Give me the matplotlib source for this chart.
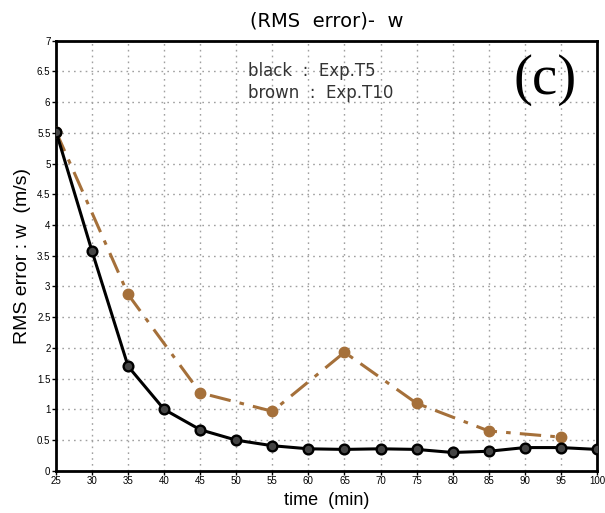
import matplotlib
matplotlib.use("Agg")
import matplotlib.pyplot as plt

plt.rcParams["font.family"] = ["Liberation Sans", "DejaVu Sans"]

# Data
time_t5 = [25, 30, 35, 40, 45, 50, 55, 60, 65, 70, 75, 80, 85, 90, 95, 100]
rms_t5 = [5.52, 3.57, 1.70, 1.00, 0.67, 0.50, 0.41, 0.36, 0.35, 0.36, 0.35, 0.30, 0.32, 0.38, 0.38, 0.35]
time_t10 = [25, 35, 45, 55, 65, 75, 85, 95]
rms_t10 = [5.52, 2.87, 1.27, 0.97, 1.93, 1.10, 0.65, 0.55]
xticks = [25, 30, 35, 40, 45, 50, 55, 60, 65, 70, 75, 80, 85, 90, 95, 100]
yticks = [0, 0.5, 1, 1.5, 2, 2.5, 3, 3.5, 4, 4.5, 5, 5.5, 6, 6.5, 7]

brown = "#a5703a"

fig = plt.figure(figsize=(6.05, 5.13), dpi=100)
ax = fig.add_axes([0.0926, 0.082, 0.894, 0.839])

ax.plot(time_t10, rms_t10, color=brown, linestyle=(0, (7, 3, 1.5, 3)), linewidth=2.2,
        marker="o", markersize=7.5, markerfacecolor=brown, markeredgecolor=brown, zorder=3)
ax.plot(time_t5, rms_t5, color="black", linestyle="-", linewidth=2.2,
        marker="o", markersize=7, markerfacecolor="#444444", markeredgecolor="black",
        markeredgewidth=1.7, zorder=4)

ax.set_xlim(25, 100)
ax.set_ylim(0, 7)
ax.set_xticks(xticks)
ax.set_xticklabels([str(v) for v in xticks])
ax.set_yticks(yticks)
ax.set_yticklabels([("%g" % v) for v in yticks])
ax.tick_params(axis="both", labelsize=7, length=3, width=1, direction="out", pad=1)
ax.grid(True, color="#a0a0a0", linestyle=(0, (1.2, 3)), linewidth=1)
for s in ax.spines.values():
    s.set_linewidth(2)

ax.set_title("(RMS  error)-  w", fontsize=14, pad=10, family="DejaVu Sans")
ax.set_xlabel("time  (min)", fontsize=13, labelpad=4)
ax.set_ylabel("RMS error : w  (m/s)", fontsize=14, labelpad=4)

ax.text(51.6, 6.50, "black  :  Exp.T5", fontsize=12, color="#333333", va="center", ha="left",
        family="DejaVu Sans")
ax.text(51.6, 6.14, "brown  :  Exp.T10", fontsize=12, color="#333333", va="center", ha="left",
        family="DejaVu Sans")
ax.text(92.8, 6.36, "(c)", fontsize=41, family="Liberation Serif", va="center", ha="center")

fig.savefig("out.png", dpi=100)
